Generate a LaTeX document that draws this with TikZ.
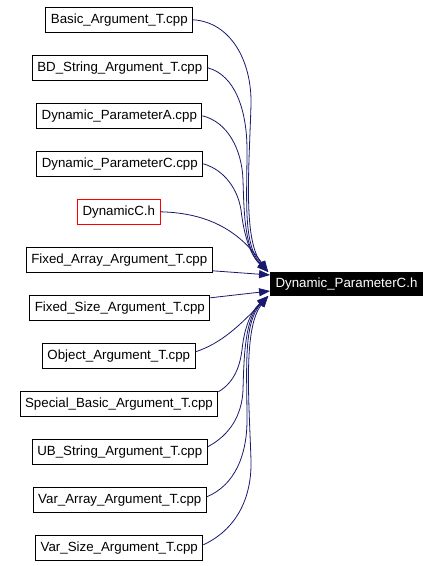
\documentclass[tikz,border=0pt]{standalone}
\usepackage{fontspec}
\setmainfont{Liberation Sans}
\usetikzlibrary{arrows.meta,calc}
\definecolor{edgeblue}{HTML}{191970}
\tikzset{
  x=1pt,y=-1pt,
  filebox/.style={draw=black,line width=0.9pt,fill=white,inner xsep=5pt,inner ysep=0pt,
    minimum height=25pt,font=\fontsize{13.3}{15}\selectfont},
  redbox/.style={filebox,draw=red},
  targetbox/.style={draw=black,fill=black,text=white,line width=0.9pt,inner xsep=5pt,inner ysep=0pt,
    minimum height=23.4pt,font=\fontsize{13.3}{15}\selectfont},
  edge/.style={draw=edgeblue,line width=0.8pt,-{Triangle[length=11pt,width=8pt]}},
}
\begin{document}
\begin{tikzpicture}
\useasboundingbox (0,0) rectangle (440,566);
\fill[white] (0,0) rectangle (440,566);
\node[filebox] (n1) at (119.3,19.8) {Basic\_Argument\_T.cpp};
\node[filebox] (n2) at (119.8,67.8) {BD\_String\_Argument\_T.cpp};
\node[filebox] (n3) at (119.3,115.8) {Dynamic\_ParameterA.cpp};
\node[filebox] (n4) at (119.8,163.8) {Dynamic\_ParameterC.cpp};
\node[redbox] (n5) at (118.8,211.8) {DynamicC.h};
\node[filebox] (n6) at (119.3,259.8) {Fixed\_Array\_Argument\_T.cpp};
\node[filebox] (n7) at (119.8,307.8) {Fixed\_Size\_Argument\_T.cpp};
\node[filebox] (n8) at (118.8,355.8) {Object\_Argument\_T.cpp};
\node[filebox] (n9) at (119.0,403.8) {Special\_Basic\_Argument\_T.cpp};
\node[filebox] (n10) at (119.8,451.8) {UB\_String\_Argument\_T.cpp};
\node[filebox] (n11) at (119.8,499.8) {Var\_Array\_Argument\_T.cpp};
\node[filebox] (n12) at (119.3,547.8) {Var\_Size\_Argument\_T.cpp};
\node[targetbox] (t) at (346.5,284) {Dynamic\_ParameterC.h};

% top cluster
\draw[edge] (n1.east) .. controls (230,22) and (252,60) .. (251,105) .. controls (249,170) and (243,240) .. ($(t.north west)+(-2,0)$);
\draw[edge] (n2.east) .. controls (235,75) and (247,110) .. (247,150) .. controls (247,200) and (243,245) .. ($(t.north west)+(-2,0)$);
\draw[edge] (n3.east) .. controls (228,122) and (242,150) .. (243,180) .. controls (244,215) and (245,250) .. ($(t.north west)+(-2,0)$);
\draw[edge] (n4.east) .. controls (225,170) and (238,190) .. (241,210) .. controls (244,235) and (250,255) .. ($(t.north west)+(-2,0)$);
\draw[edge] (n5.east) .. controls (210,213) and (240,232) .. ($(t.north west)+(-2,0)$);
% straight ones
\draw[edge] ($(n6.east)+(0,11)$) -- ($(t.west)+(0,-9)$);
\draw[edge] ($(n7.east)+(0,-10)$) -- ($(t.west)+(0,7)$);
% bottom cluster
\draw[edge] ($(n8.east)+(0,-4)$) .. controls (222,343) and (240,325) .. ($(t.south west)+(-2,0)$);
\draw[edge] ($(n9.east)+(0,-12)$) .. controls (235,382) and (240,365) .. (242,350) .. controls (244,330) and (250,312) .. ($(t.south west)+(-2,0)$);
\draw[edge] ($(n10.east)+(0,-5)$) .. controls (230,435) and (242,415) .. (243,390) .. controls (244,355) and (245,318) .. ($(t.south west)+(-2,0)$);
\draw[edge] ($(n11.east)+(0,-3)$) .. controls (235,485) and (247,455) .. (247,420) .. controls (247,370) and (243,323) .. ($(t.south west)+(-2,0)$);
\draw[edge] ($(n12.east)+(0,-3)$) .. controls (235,530) and (252,500) .. (251,460) .. controls (249,400) and (243,328) .. ($(t.south west)+(-2,0)$);
\end{tikzpicture}
\end{document}
